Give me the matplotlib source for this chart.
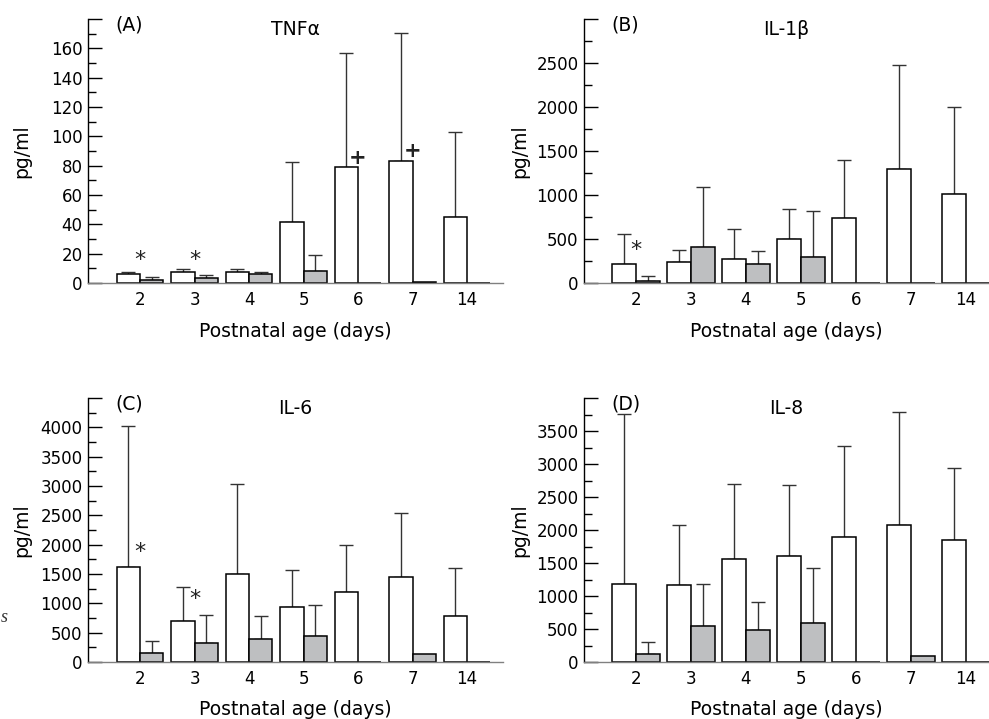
import numpy as np
import matplotlib
matplotlib.use('Agg')
import matplotlib.pyplot as plt
from matplotlib.ticker import MultipleLocator

plt.rcParams['font.family'] = ['DejaVu Sans']
plt.rcParams['font.size'] = 12

# Edad postnatal (dias)
dias = ['2', '3', '4', '5', '6', '7', '14']
nan = np.nan

# TNFa (pg/ml): barras blancas / grises con su error superior
tnf_blanco = [5.9, 7.7, 7.7, 41.8, 79.3, 83.4, 45.2]
tnf_blanco_sup = [7.7, 9.5, 9.5, 82.5, 156.8, 170.5, 103.0]
tnf_gris = [1.8, 3.6, 6.4, 8.0, nan, 0.9, nan]
tnf_gris_sup = [4.3, 5.7, 7.5, 19.0, nan, nan, nan]

# IL-1b
il1_blanco = [212, 243, 269, 497, 744, 1294, 1009]
il1_blanco_sup = [561, 372, 615, 842, 1400, 2473, 1999]
il1_gris = [19, 413, 212, 292, nan, nan, nan]
il1_gris_sup = [76, 1093, 368, 819, nan, nan, nan]

# IL-6
il6_blanco = [1623, 704, 1498, 942, 1197, 1441, 789]
il6_blanco_sup = [4023, 1282, 3041, 1572, 1997, 2542, 1600]
il6_gris = [159, 323, 397, 448, nan, 130, nan]
il6_gris_sup = [352, 800, 783, 965, nan, nan, nan]

# IL-8
il8_blanco = [1189, 1168, 1563, 1608, 1897, 2079, 1856]
il8_blanco_sup = [3758, 2079, 2696, 2686, 3278, 3788, 2944]
il8_gris = [116, 546, 491, 592, nan, 96, nan]
il8_gris_sup = [303, 1184, 910, 1431, nan, nan, nan]

# Marcas de significancia: (indice de grupo, valor y, simbolo)
tnf_marcas = [(0, 15.5, '*'), (1, 15.5, '*'), (4, 85.5, '+'), (5, 90, '+')]
il1_marcas = [(0, 370, '*')]
il6_marcas = [(0, 1870, '*'), (1, 1070, '*')]
il8_marcas = []

W, H = 989, 719
ANCHO = 0.43
GRIS = '#bebfc1'


def panel(rect_px, letra, titulo, blanco, blanco_sup, gris, gris_sup, marcas,
          ymax, mayor, etiq_max, xlim, xlabel_y, ylabel_x):
    x0, y0, x1, y1 = rect_px
    ax = plt.gcf().add_axes([x0 / W, 1 - y1 / H, (x1 - x0) / W, (y1 - y0) / H])
    x = np.arange(len(dias))
    blanco = np.array(blanco, float)
    gris = np.array(gris, float)
    ax.bar(x - ANCHO / 2, blanco, ANCHO, color='white', edgecolor='black', linewidth=1.1, zorder=2)
    ax.bar(x + ANCHO / 2, np.nan_to_num(gris), ANCHO, color=GRIS, edgecolor='black', linewidth=1.1, zorder=2)

    err_b = np.array(blanco_sup, float) - blanco
    ax.errorbar(x - ANCHO / 2, blanco, yerr=[np.zeros_like(err_b), err_b], fmt='none',
                ecolor='#333333', elinewidth=1.0, capsize=5, capthick=1.0, zorder=1)
    err_g = np.array(gris_sup, float) - gris
    ok = ~np.isnan(err_g)
    ax.errorbar((x + ANCHO / 2)[ok], gris[ok], yerr=[np.zeros(ok.sum()), err_g[ok]], fmt='none',
                ecolor='#333333', elinewidth=1.0, capsize=5, capthick=1.0, zorder=1)

    for i, yv, s in marcas:
        if s == '+':
            ax.text(x[i], yv, s, ha='center', va='center', fontsize=15, fontweight='bold', color='#222222')
        else:
            ax.text(x[i], yv, s, ha='center', va='center', fontsize=16, color='#222222')

    ax.set_xlim(*xlim)
    ax.set_ylim(0, ymax)
    ax.set_xticks(x)
    ax.set_xticklabels(dias)
    ax.tick_params(axis='x', length=0, pad=6, labelsize=12)
    ax.yaxis.set_major_locator(MultipleLocator(mayor))
    ax.yaxis.set_minor_locator(MultipleLocator(mayor / 2))
    ticks = np.arange(0, ymax + mayor / 2, mayor)
    ax.set_yticks(ticks)
    ax.set_yticklabels([f'{t:g}' if t <= etiq_max else '' for t in ticks])
    ax.tick_params(axis='y', which='major', direction='in', length=10, width=1, pad=4, labelsize=12)
    ax.tick_params(axis='y', which='minor', direction='in', length=5.5, width=1)

    for s in ['top', 'right']:
        ax.spines[s].set_visible(False)
    ax.spines['left'].set_linewidth(1.0)
    ax.spines['bottom'].set_color('#808080')
    ax.spines['bottom'].set_linewidth(1.0)

    ax.set_ylabel('pg/ml', fontsize=13.5)
    ax.yaxis.set_label_coords((ylabel_x - x0) / (x1 - x0), 0.5)
    ax.set_xlabel('Postnatal age (days)', fontsize=13.5)
    ax.xaxis.set_label_coords(0.5, -(xlabel_y - y1) / (y1 - y0))

    ax.text(0.067, 1.015, letra, transform=ax.transAxes, ha='left', va='top', fontsize=13.5)
    ax.text(0.5, 0.997, titulo, transform=ax.transAxes, ha='center', va='top', fontsize=13.5)
    return ax


fig = plt.figure(figsize=(W / 100, H / 100), dpi=100)

panel((88, 19, 503, 283), '(A)', 'TNFα', tnf_blanco, tnf_blanco_sup, tnf_gris, tnf_gris_sup,
      tnf_marcas, 180, 20, 160, (-0.954, 6.66), 322, 31)
panel((584, 19, 989, 283), '(B)', 'IL-1β', il1_blanco, il1_blanco_sup, il1_gris, il1_gris_sup,
      il1_marcas, 3000, 500, 2500, (-0.945, 6.42), 322, 529)
panel((88, 398, 503, 662), '(C)', 'IL-6', il6_blanco, il6_blanco_sup, il6_gris, il6_gris_sup,
      il6_marcas, 4500, 500, 4000, (-0.954, 6.66), 700, 31)
panel((584, 398, 989, 662), '(D)', 'IL-8', il8_blanco, il8_blanco_sup, il8_gris, il8_gris_sup,
      il8_marcas, 4000, 500, 3500, (-0.945, 6.42), 700, 529)

# resto de texto en el borde izquierdo
fig.text(1 / W, 1 - 617 / H, 's', family='Liberation Serif', style='italic',
         fontsize=13, ha='left', va='center', color='#333333')

fig.savefig('out.png', dpi=100)
